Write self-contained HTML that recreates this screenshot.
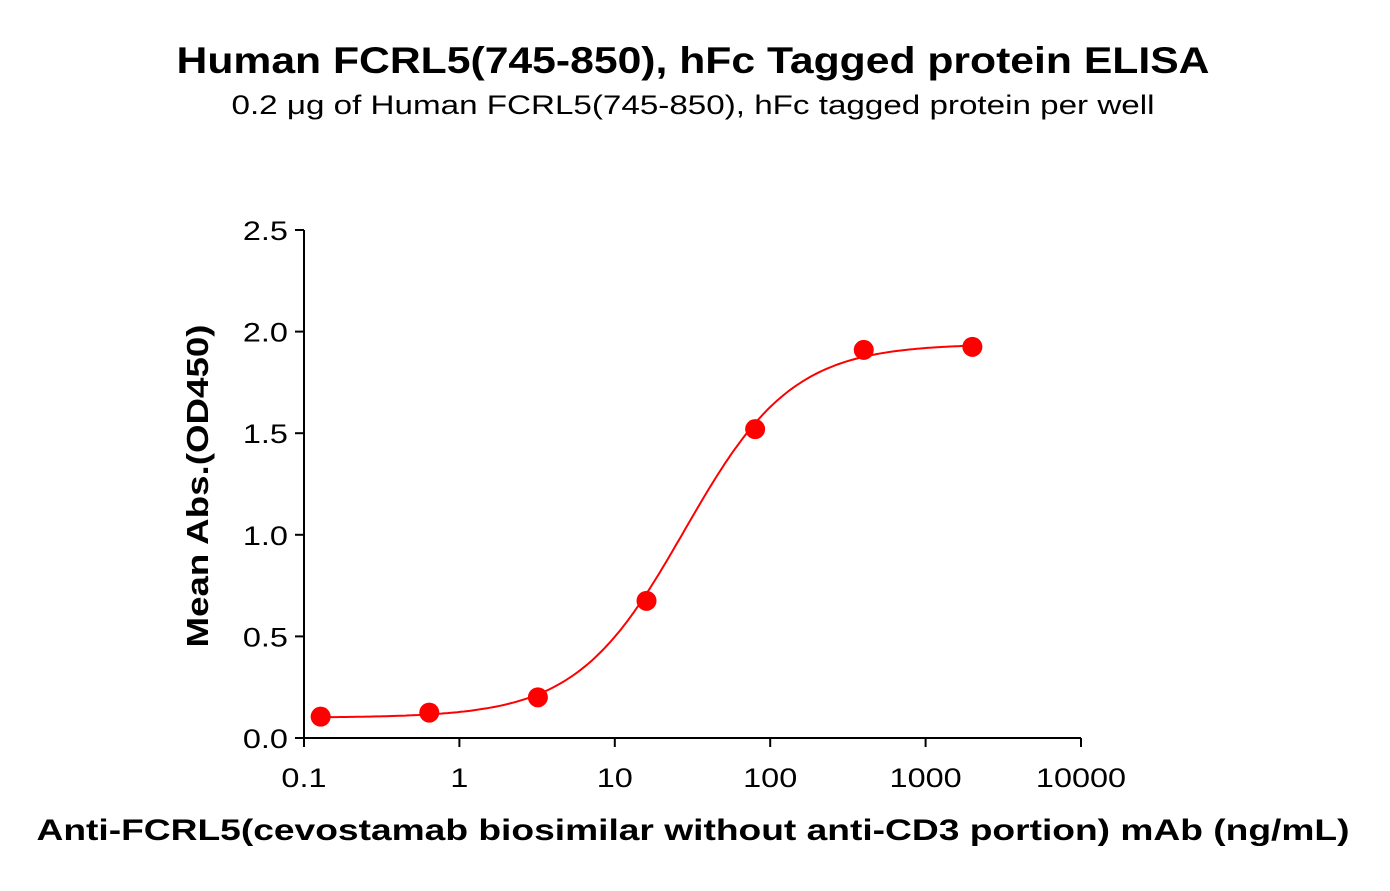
<!DOCTYPE html>
<html><head><meta charset="utf-8"><style>
body{margin:0;background:#fff;}
svg text{font-family:"Liberation Sans",Arial,sans-serif;fill:#000;}
</style></head><body>
<svg width="1390" height="886" xmlns="http://www.w3.org/2000/svg">
<text x="693" y="73" text-anchor="middle" font-size="37" font-weight="bold" textLength="1033" lengthAdjust="spacingAndGlyphs">Human FCRL5(745-850), hFc Tagged protein ELISA</text>
<text x="693" y="114" text-anchor="middle" font-size="27" textLength="923" lengthAdjust="spacingAndGlyphs">0.2 μg of Human FCRL5(745-850), hFc tagged protein per well</text>
<g id="axes"></g>
<g id="curve"></g>
<g id="points"></g>
<text transform="translate(208,486) rotate(-90)" text-anchor="middle" font-size="31" font-weight="bold" textLength="323" lengthAdjust="spacingAndGlyphs">Mean Abs.(OD450)</text>
<text x="693" y="840" text-anchor="middle" font-size="30" font-weight="bold" textLength="1313" lengthAdjust="spacingAndGlyphs">Anti-FCRL5(cevostamab biosimilar without anti-CD3 portion) mAb (ng/mL)</text>
</svg>
<script>
const concentrations=[0.128,0.64,3.2,16,80,400,2000];
const absorbance=[0.105,0.125,0.2,0.675,1.52,1.91,1.925];
const yTicks=[0,0.5,1.0,1.5,2.0,2.5];
const yTickLabels=["0.0","0.5","1.0","1.5","2.0","2.5"];
const xTicks=[0.1,1,10,100,1000,10000];
const xTickLabels=["0.1","1","10","100","1000","10000"];
const fitBottom=0.1, fitTop=1.94, fitEC50=28, fitHill=1.25;

const NS="http://www.w3.org/2000/svg";
const X0=304,X1=1081,Y0=738,Y1=230;
const xs=v=>X0+(Math.log10(v)+1)/5*(X1-X0);
const ys=v=>Y0-v/2.5*(Y0-Y1);
function mk(t,a,p){const e=document.createElementNS(NS,t);for(const k in a)e.setAttribute(k,a[k]);p.appendChild(e);return e;}
function stretch(tx){const w=tx.getComputedTextLength();tx.setAttribute('textLength',(w*1.2).toFixed(1));tx.setAttribute('lengthAdjust','spacingAndGlyphs');}
const ax=document.getElementById('axes');
let l=mk('line',{x1:X0,y1:Y1,x2:X0,y2:Y0,stroke:'#000','stroke-width':2},ax);


l=mk('line',{x1:X0,y1:Y0,x2:X1,y2:Y0,stroke:'#000','stroke-width':2},ax);


yTicks.forEach((v,i)=>{
  const t=mk('line',{x1:X0-9,y1:ys(v),x2:X0,y2:ys(v),stroke:'#000','stroke-width':2},ax);
  
  
  const tx=mk('text',{x:X0-16,y:ys(v)+10,'text-anchor':'end','font-size':27},ax);
  tx.textContent=yTickLabels[i];
  
  
  stretch(tx);
});
xTicks.forEach((v,i)=>{
  const t=mk('line',{x1:xs(v),y1:Y0,x2:xs(v),y2:Y0+9,stroke:'#000','stroke-width':2},ax);
  
  
  const tx=mk('text',{x:xs(v),y:Y0+49,'text-anchor':'middle','font-size':27},ax);
  tx.textContent=xTickLabels[i];
  
  
  stretch(tx);
});
let d='';
const lo=Math.log10(concentrations[0]),hi=Math.log10(concentrations[concentrations.length-1]);
for(let i=0;i<=200;i++){const lx=lo+(hi-lo)*i/200,c=Math.pow(10,lx);
  const y=fitBottom+(fitTop-fitBottom)/(1+Math.pow(fitEC50/c,fitHill));
  d+=(i?'L':'M')+xs(c).toFixed(1)+','+ys(y).toFixed(1);}
const p=mk('path',{d:d,fill:'none',stroke:'#f00','stroke-width':2},document.getElementById('curve'));


const pg=document.getElementById('points');
concentrations.forEach((c,i)=>{
  const e=mk('circle',{cx:xs(c),cy:ys(absorbance[i]),r:10,fill:'#f00'},pg);
  
  
});
</script>
</body></html>
